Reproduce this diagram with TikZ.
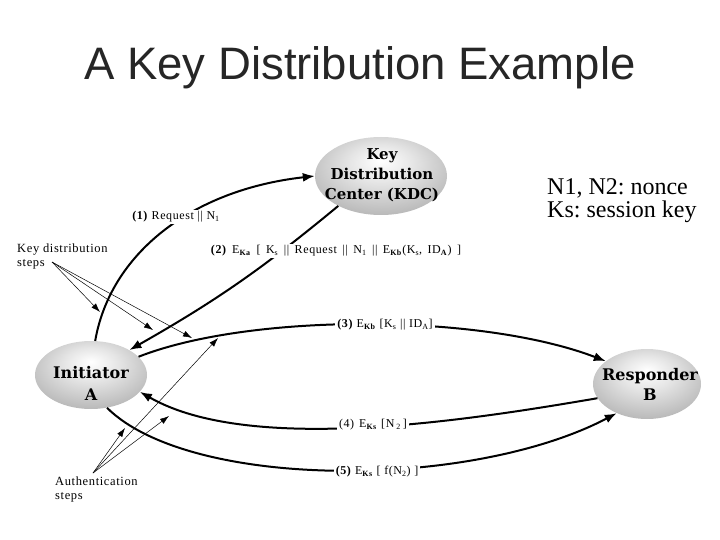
\documentclass[tikz,border=0pt]{standalone}
\usepackage{fontspec}
\setmainfont{Liberation Serif}
\newfontfamily\titlefont{Liberation Sans}
\newfontfamily\entfont{DejaVu Serif}
\newfontfamily\notefont[LetterSpace=5]{Liberation Serif}
\usetikzlibrary{shapes.geometric,arrows.meta}
\AtBeginDocument{\frenchspacing}
\pgfdeclareradialshading{entshade}{\pgfpoint{0bp}{10bp}}{color(0bp)=(white); color(12bp)=(white!90!black); color(45bp)=(white!58!black); color(60bp)=(white!50!black)}
\begin{document}
\begin{tikzpicture}[x=1pt,y=-1pt,
  ent/.style={ellipse, shading=entshade, inner sep=0pt},
  enttext/.style={align=center, inner sep=0pt},
  msg/.style={-{Latex[length=12pt,width=9pt]}, line width=2pt},
  lab/.style={fill=white, inner sep=2pt, font=\notefont\fontsize{12}{14}\selectfont},
  hint/.style={-{Latex[length=9pt,width=6pt]}, line width=0.5pt},
  note/.style={font=\notefont\fontsize{12.5}{14}\selectfont, align=left, inner sep=0pt, anchor=north west}
]
\useasboundingbox (0,0) rectangle (720,540);
\node[font=\titlefont\fontsize{45.5}{50}\selectfont, text=black!85, anchor=base, inner sep=0pt] (title) at (360,80) {A Key Distribution Example};

% entities
\node[ent, minimum width=132pt, minimum height=78pt] (kdc) at (381,176) {};
\node[enttext, font=\entfont\bfseries\fontsize{15}{20}\selectfont] (kdct) at (382,175) {Key\\Distribution\\Center (KDC)};
\node[ent, minimum width=112pt, minimum height=68pt] (ini) at (91,375) {};
\node[enttext, font=\entfont\bfseries\fontsize{16}{22}\selectfont] (init) at (91,383) {Initiator\\A};
\node[ent, minimum width=108pt, minimum height=70pt] (resp) at (647,384) {};
\node[enttext, font=\entfont\bfseries\fontsize{16}{20}\selectfont] (respt) at (650,384) {Responder\\B};

% legend
\node[font=\fontsize{24}{23}\selectfont, anchor=base west, inner sep=0pt] (legend1) at (547,195) {N1, N2: nonce};
\node[font=\fontsize{24}{23}\selectfont, anchor=base west, inner sep=0pt] (legend2) at (547,218) {Ks: session key};

% messages
\draw[msg] (ini.83) .. controls (110,255) and (190,190) .. (kdc.180);
\draw[msg] (kdc.215) to[bend left=5] (ini.33);
\draw[msg] (ini.21) .. controls (250,313) and (480,313) .. (resp.151);
\draw[msg] (resp.196) .. controls (470,420) and (250,455) .. (ini.341);
\draw[msg] (ini.296) .. controls (190,490) and (470,490) .. (resp.224);

% message labels
\node[lab] (l1) at (176,217) {\textbf{(1)} Request \textbar\textbar{} N\textsubscript{1}};
\node[lab] (l2) at (336,251) {\spaceskip=5.5pt plus 1pt\textbf{(2)} E\textsubscript{\textbf{Ka}} [ K\textsubscript{s} \textbar\textbar{} Request \textbar\textbar{} N\textsubscript{1} \textbar\textbar{} E\textsubscript{\textbf{Kb}}(K\textsubscript{s}, ID\textsubscript{\textbf{A}}) ]};
\node[lab] (l3) at (385,325) {\textbf{(3)} E\textsubscript{\textbf{Kb}} [K\textsubscript{s} \textbar\textbar{} ID\textsubscript{A}]};
\node[lab] (l4) at (373,425) {(4)\hspace{5pt}E\textsubscript{\textbf{Ks}}\hspace{4pt}[N\hspace{2pt}\textsubscript{2}\hspace{2pt}]};
\node[lab] (l5) at (377,472) {\textbf{(5)} E\textsubscript{\textbf{Ks}} [ f(N\textsubscript{2}) ]};

% step notes
\node[note] (kdnote) at (17,244) {Key distribution\\steps};
\node[note] (aunote) at (55,477) {Authentication\\steps};
\coordinate (kdsrc) at (52,262);
\coordinate (kd1) at (100,312);
\coordinate (kd2) at (153,330);
\coordinate (kd3) at (192,338);
\coordinate (ausrc) at (93,473);
\coordinate (au1) at (125,428);
\coordinate (au2) at (169,416);
\coordinate (au3) at (218,338);
\draw[hint] (kdsrc) -- (kd1);
\draw[hint] (kdsrc) -- (kd2);
\draw[hint] (kdsrc) -- (kd3);
\draw[hint] (ausrc) -- (au1);
\draw[hint] (ausrc) -- (au2);
\draw[hint] (ausrc) -- (au3);
\end{tikzpicture}
\end{document}
